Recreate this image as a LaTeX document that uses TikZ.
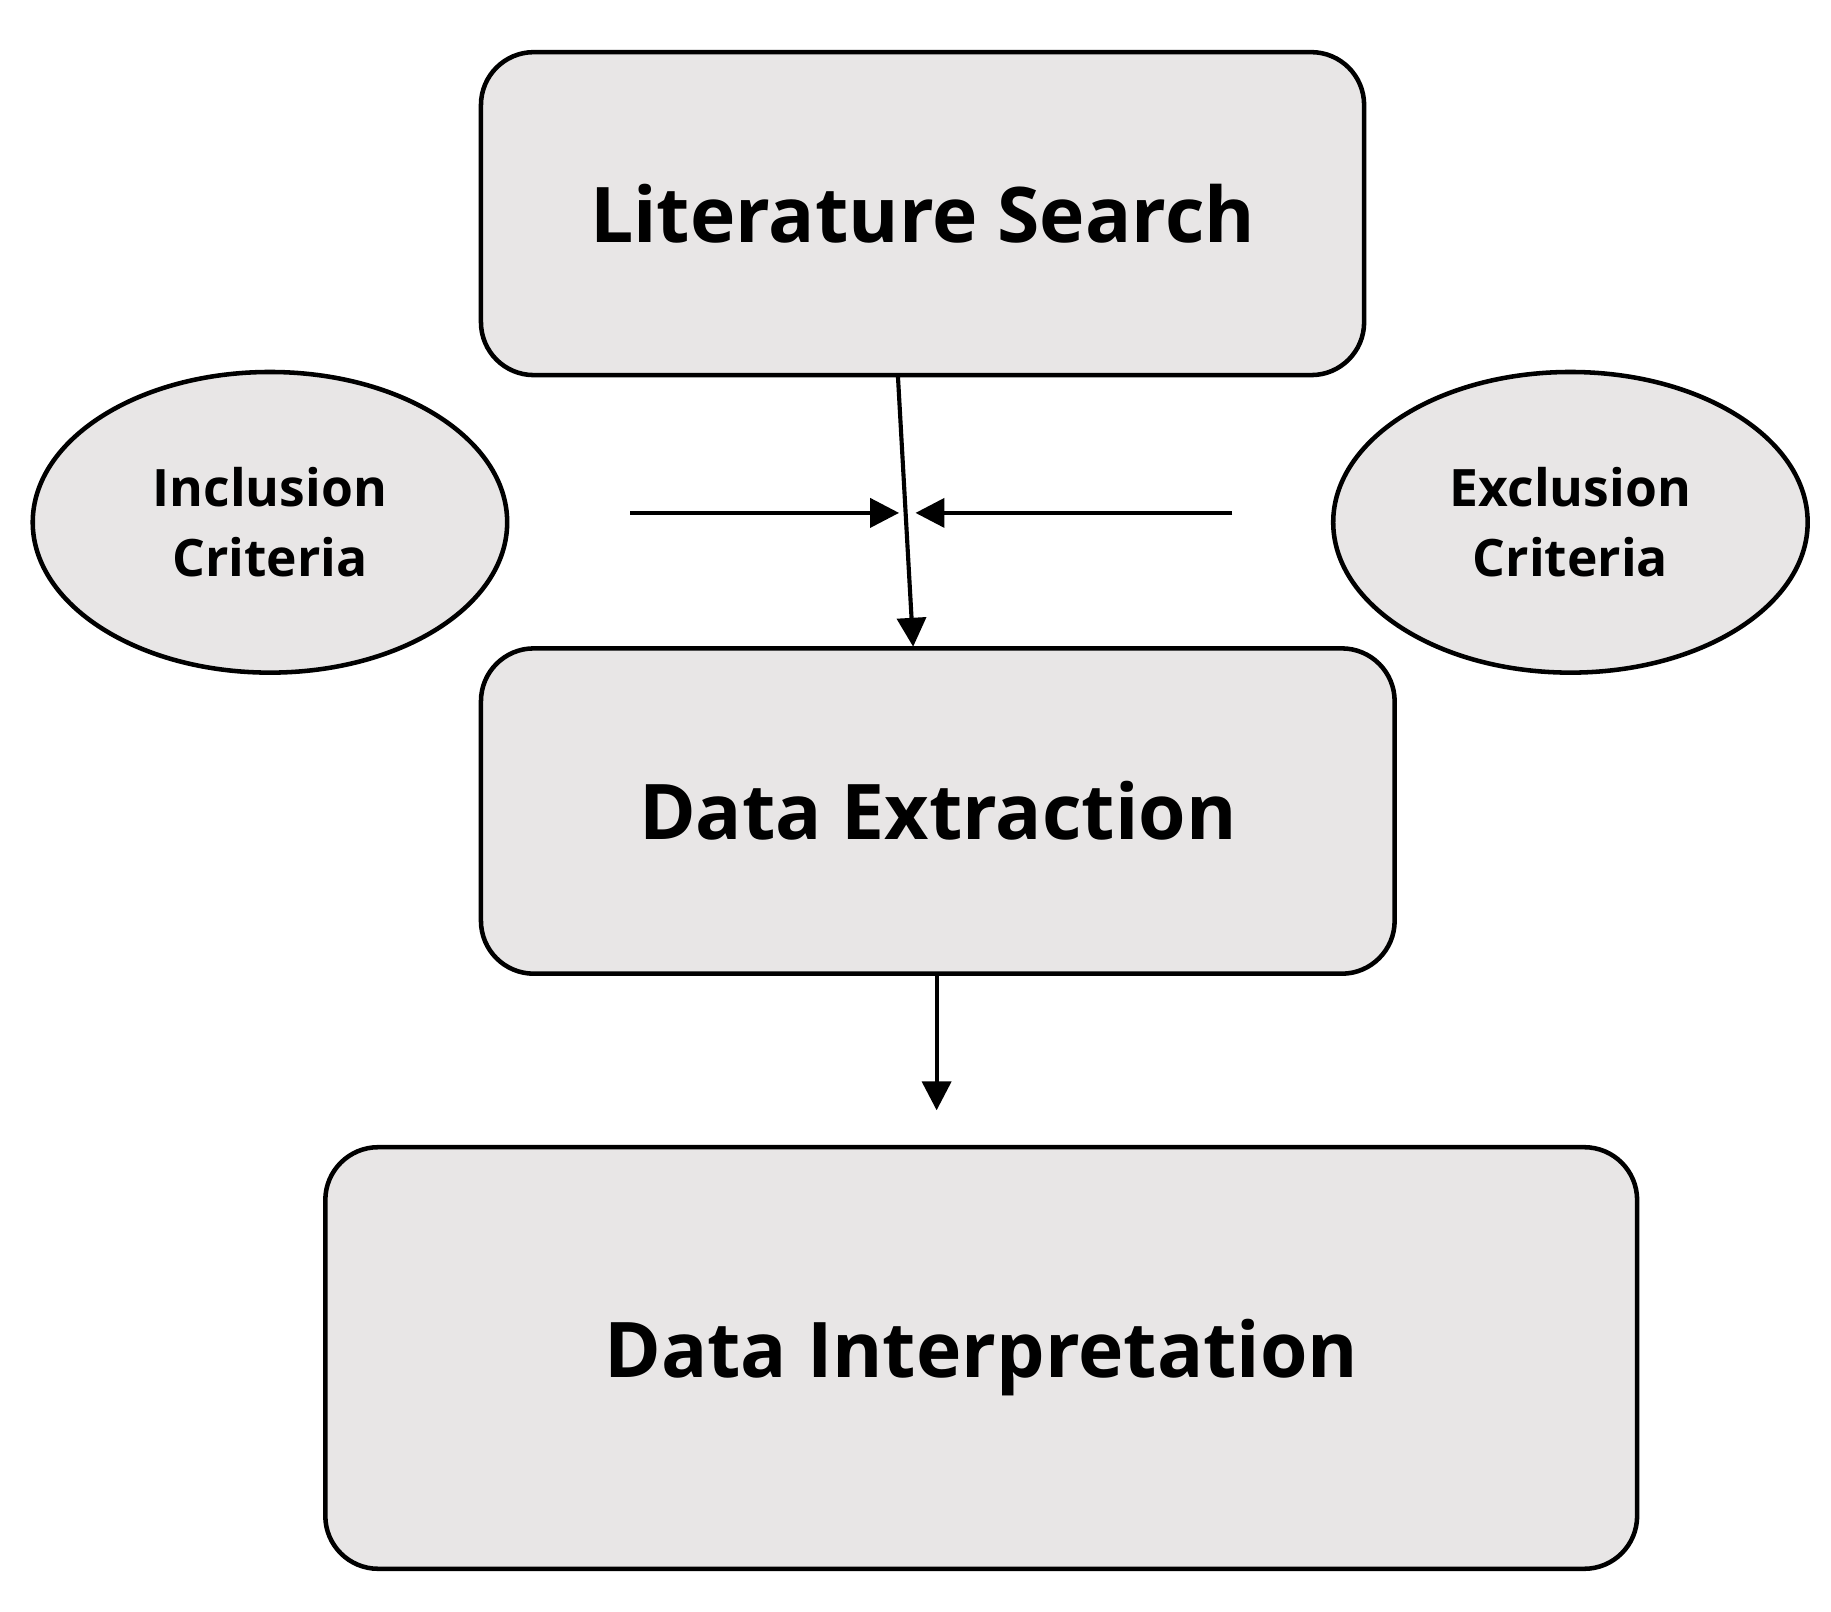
\documentclass[tikz,border=0pt]{standalone}
\usepackage{fontspec}
\setmainfont{Open Sans}
\usetikzlibrary{shapes.geometric,arrows.meta}
\definecolor{boxgray}{HTML}{E8E6E6}
\begin{document}
\begin{tikzpicture}[x=0.01cm,y=-0.01cm,
  box/.style={draw=black,line width=1.1pt,fill=boxgray,rounded corners=0.45cm,inner sep=0pt},
  big/.style={font=\bfseries\fontsize{18.6}{22}\selectfont},
  ell/.style={draw=black,line width=1.1pt,fill=boxgray,ellipse,inner sep=0pt,align=center,font=\bfseries\fontsize{12.5}{17}\selectfont},
  arr/.style={line width=1pt,-{Triangle[length=7pt,width=7pt]}}]
\useasboundingbox (0,0) rectangle (1560,1373);
\node[box,minimum width=7.52cm,minimum height=2.75cm] (ls) at (786,182) {};
\node[big] at (ls) {Literature Search};
\node[box,minimum width=7.78cm,minimum height=2.77cm] (de) at (799,691) {};
\node[big] at (de) {Data Extraction};
\node[box,minimum width=11.17cm,minimum height=3.59cm] (di) at (836,1157) {};
\node[big] at (di) {Data Interpretation};
\node[ell,minimum width=4.04cm,minimum height=2.56cm] (inc) at (230,445) {Inclusion\\Criteria};
\node[ell,minimum width=4.04cm,minimum height=2.56cm] (exc) at (1338,445) {Exclusion\\Criteria};
\coordinate (lsb) at (765,320);
\coordinate (det) at (778,551);
\coordinate (a1) at (537,437);
\coordinate (a1e) at (766,437);
\coordinate (a2) at (1050,437);
\coordinate (a2e) at (780,437);
\coordinate (deb) at (798,830);
\coordinate (dif) at (798,946);
\draw[arr] (lsb) -- (det);
\draw[arr] (a1) -- (a1e);
\draw[arr] (a2) -- (a2e);
\draw[arr] (deb) -- (dif);
\end{tikzpicture}
\end{document}
